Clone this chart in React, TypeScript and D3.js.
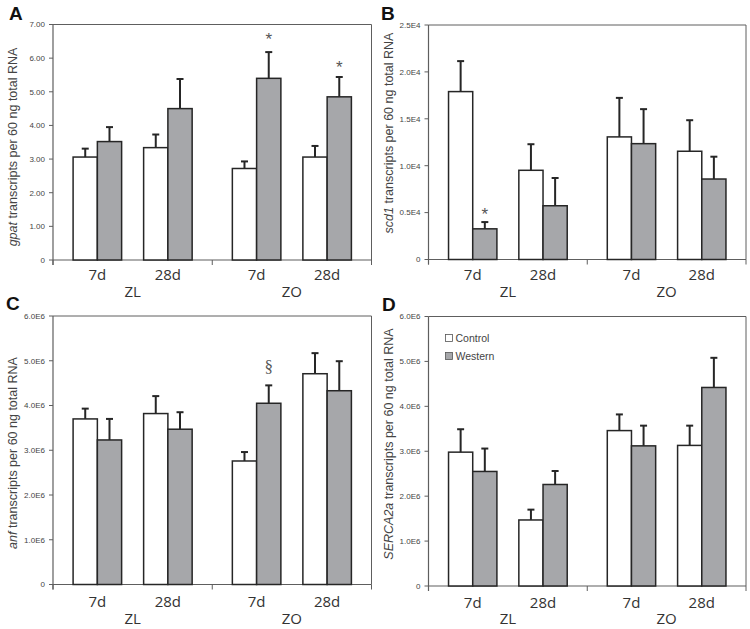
import React from "react";
import * as d3 from "d3";

// ---- categories ----
const groups = ["ZL", "ZO"];
const times = ["7d", "28d"];
const series = ["Control", "Western"];

// ---- values (order: ZL-7d, ZL-28d, ZO-7d, ZO-28d) ----
const gpatControl = [3.06, 3.34, 2.72, 3.06];
const gpatControlErr = [0.25, 0.39, 0.21, 0.33];
const gpatWestern = [3.52, 4.5, 5.4, 4.85];
const gpatWesternErr = [0.43, 0.88, 0.78, 0.59];

const scd1Control = [17900, 9510, 13070, 11540];
const scd1ControlErr = [3250, 2780, 4160, 3310];
const scd1Western = [3270, 5730, 12350, 8580];
const scd1WesternErr = [720, 2960, 3680, 2380];

const anfControl = [3.7e6, 3.82e6, 2.76e6, 4.71e6];
const anfControlErr = [0.23e6, 0.39e6, 0.2e6, 0.46e6];
const anfWestern = [3.23e6, 3.47e6, 4.05e6, 4.33e6];
const anfWesternErr = [0.47e6, 0.38e6, 0.4e6, 0.66e6];

const sercaControl = [2.98e6, 1.47e6, 3.46e6, 3.13e6];
const sercaControlErr = [0.51e6, 0.23e6, 0.36e6, 0.44e6];
const sercaWestern = [2.55e6, 2.26e6, 3.12e6, 4.42e6];
const sercaWesternErr = [0.51e6, 0.3e6, 0.45e6, 0.66e6];

// ---- ticks ----
const gpatTicks = [0, 1, 2, 3, 4, 5, 6, 7];
const gpatTickLabels = ["0", "1.00", "2.00", "3.00", "4.00", "5.00", "6.00", "7.00"];
const scd1Ticks = [0, 5000, 10000, 15000, 20000, 25000];
const scd1TickLabels = ["0", "0.5E4", "1.0E4", "1.5E4", "2.0E4", "2.5E4"];
const e6Ticks = [0, 1e6, 2e6, 3e6, 4e6, 5e6, 6e6];
const e6TickLabels = ["0", "1.0E6", "2.0E6", "3.0E6", "4.0E6", "5.0E6", "6.0E6"];

// ---- annotations: [index, series, symbol] ----
const gpatMarks = [
  { i: 2, s: "Western", t: "*" },
  { i: 3, s: "Western", t: "*" },
];
const scd1Marks = [{ i: 0, s: "Western", t: "*" }];
const anfMarks = [{ i: 2, s: "Western", t: "§" }];
const sercaMarks: { i: number; s: string; t: string }[] = [];

const FILL: Record<string, string> = { Control: "#ffffff", Western: "#a6a7aa" };
const AXIS = "#5e5e5e";
const INK = "#262626";
const TEXT = "#444";

type PanelProps = {
  letter: string;
  gene: string;
  control: number[];
  controlErr: number[];
  western: number[];
  westernErr: number[];
  ticks: number[];
  tickLabels: string[];
  marks: { i: number; s: string; t: string }[];
  layout: {
    x0: number; x1: number; yTop: number; yZero: number;
    lx: number; ly: number; tx: number; tcy: number;
    catDy: number; grpDy: number; markOff: number[];
  };
  legend?: boolean;
};

function Panel(p: PanelProps) {
  const L = p.layout;
  const dMax = p.ticks[p.ticks.length - 1];
  const y = d3.scaleLinear().domain([0, dMax]).range([L.yZero, L.yTop]);
  const gx = d3.scaleBand<string>().domain(groups).range([L.x0, L.x1]).padding(0);
  const tx = d3
    .scaleBand<string>()
    .domain(times)
    .range([0, gx.bandwidth()])
    .paddingInner(0.312)
    .paddingOuter(0.285);
  const sx = d3.scaleBand<string>().domain(series).range([0, tx.bandwidth()]).padding(0);

  const rows: { g: string; t: string; s: string; v: number; e: number; i: number }[] = [];
  groups.forEach((g, gi) =>
    times.forEach((t, ti) => {
      const i = gi * times.length + ti;
      rows.push({ g, t, s: "Control", v: p.control[i], e: p.controlErr[i], i });
      rows.push({ g, t, s: "Western", v: p.western[i], e: p.westernErr[i], i });
    })
  );
  const barX = (r: { g: string; t: string; s: string }) =>
    (gx(r.g) as number) + (tx(r.t) as number) + (sx(r.s) as number);
  const bw = sx.bandwidth();

  const midTicks = [L.x0, ...groups.slice(1).map((g) => gx(g) as number), L.x1];

  return (
    <g>
      <text x={L.lx} y={L.ly} fontFamily="Liberation Sans, Arial, sans-serif" fontWeight="bold" fontSize={19} fill="#111">
        {p.letter}
      </text>
      {/* frame */}
      <line x1={L.x0} x2={L.x1} y1={L.yTop} y2={L.yTop} stroke={AXIS} strokeWidth={1} />
      <line x1={L.x1} x2={L.x1} y1={L.yTop} y2={L.yZero} stroke={AXIS} strokeWidth={1} />
      <line x1={L.x0} x2={L.x0} y1={L.yTop} y2={L.yZero + 5} stroke={AXIS} strokeWidth={1.2} />
      <line x1={L.x0} x2={L.x1} y1={L.yZero} y2={L.yZero} stroke={AXIS} strokeWidth={1.2} />
      {midTicks.map((x, k) => (
        <line key={"mt" + k} x1={x} x2={x} y1={L.yZero} y2={L.yZero + 5} stroke={AXIS} strokeWidth={1} />
      ))}
      {p.ticks.map((t, k) => (
        <g key={"yt" + k}>
          <line x1={L.x0 - 4} x2={L.x0} y1={y(t)} y2={y(t)} stroke={AXIS} strokeWidth={1} />
          <text
            x={L.x0 - 8}
            y={y(t)}
            dy="0.35em"
            textAnchor="end"
            fontFamily="Liberation Sans, Arial, sans-serif"
            fontSize={8}
            fill={TEXT}
          >
            {p.tickLabels[k]}
          </text>
        </g>
      ))}
      {/* y title */}
      <text
        transform={`translate(${L.tx},${L.tcy}) rotate(-90)`}
        textAnchor="middle"
        dy="0.35em"
        fontFamily="Liberation Sans, Arial, sans-serif"
        fontSize={12.5}
        fill={TEXT}
      >
        <tspan fontStyle="italic">{p.gene}</tspan>
        <tspan> transcripts per 60 ng total RNA</tspan>
      </text>
      {/* bars */}
      {rows.map((r, k) => (
        <rect
          key={"b" + k}
          x={barX(r)}
          y={y(r.v)}
          width={bw}
          height={L.yZero - y(r.v)}
          fill={FILL[r.s]}
          stroke={INK}
          strokeWidth={1.5}
        />
      ))}
      {/* error bars */}
      {rows.map((r, k) => {
        const cx = barX(r) + bw / 2;
        return (
          <g key={"e" + k} stroke={INK} strokeWidth={2}>
            <line x1={cx} x2={cx} y1={y(r.v)} y2={y(r.v + r.e)} />
            <line x1={cx - 3.5} x2={cx + 3.5} y1={y(r.v + r.e)} y2={y(r.v + r.e)} />
          </g>
        );
      })}
      {/* significance marks */}
      {p.marks.map((m, k) => {
        const r = rows.find((q) => q.i === m.i && q.s === m.s)!;
        const cx = barX(r) + bw / 2;
        const top = y(r.v + r.e);
        const serif = m.t === "§";
        return (
          <text
            key={"m" + k}
            x={cx}
            y={top - L.markOff[k]}
            dy={serif ? "0.35em" : "0.7em"}
            textAnchor="middle"
            fontFamily={serif ? "Liberation Serif, serif" : "Liberation Sans, Arial, sans-serif"}
            fontSize={serif ? 17 : 17}
            fill="#555"
          >
            {m.t}
          </text>
        );
      })}
      {/* category labels */}
      {groups.map((g) =>
        times.map((t) => (
          <text
            key={g + t}
            x={(gx(g) as number) + (tx(t) as number) + tx.bandwidth() / 2}
            y={L.yZero + L.catDy}
            textAnchor="middle"
            fontFamily="Open Sans, sans-serif"
            fontSize={15}
            fill="#333"
          >
            {t}
          </text>
        ))
      )}
      {groups.map((g) => (
        <text
          key={"g" + g}
          x={(gx(g) as number) + gx.bandwidth() / 2}
          y={L.yZero + L.grpDy}
          textAnchor="middle"
          fontFamily="Open Sans, sans-serif"
          fontSize={15}
          fill="#333"
        >
          {g}
        </text>
      ))}
      {p.legend &&
        series.map((s, k) => (
          <g key={"lg" + s} transform={`translate(${L.x0 + 17},${L.yTop + 18 + k * 18})`}>
            <rect x={0} y={0} width={7} height={7} fill={FILL[s]} stroke="#555" strokeWidth={0.8} />
            <text x={10} y={7} fontFamily="Liberation Sans, Arial, sans-serif" fontSize={10.5} fill={TEXT}>
              {s}
            </text>
          </g>
        ))}
    </g>
  );
}

export default function App() {
  return (
    <svg
      width={750}
      height={629}
      style={{ position: "absolute", left: 0, top: 0, background: "#fff" }}
    >
      <rect width={750} height={629} fill="#fff" />
      <Panel
        letter="A"
        gene="gpat"
        control={gpatControl}
        controlErr={gpatControlErr}
        western={gpatWestern}
        westernErr={gpatWesternErr}
        ticks={gpatTicks}
        tickLabels={gpatTickLabels}
        marks={gpatMarks}
        layout={{ x0: 53, x1: 371.5, yTop: 24.5, yZero: 260, lx: 9, ly: 20, tx: 13, tcy: 147, catDy: 20, grpDy: 37, markOff: [18.5, 15.5] }}
      />
      <Panel
        letter="B"
        gene="scd1"
        control={scd1Control}
        controlErr={scd1ControlErr}
        western={scd1Western}
        westernErr={scd1WesternErr}
        ticks={scd1Ticks}
        tickLabels={scd1TickLabels}
        marks={scd1Marks}
        layout={{ x0: 428.5, x1: 746, yTop: 25, yZero: 259.5, lx: 381, ly: 20, tx: 389, tcy: 133, catDy: 20, grpDy: 37, markOff: [14] }}
      />
      <Panel
        letter="C"
        gene="anf"
        control={anfControl}
        controlErr={anfControlErr}
        western={anfWestern}
        westernErr={anfWesternErr}
        ticks={e6Ticks}
        tickLabels={e6TickLabels}
        marks={anfMarks}
        layout={{ x0: 53, x1: 371.5, yTop: 316, yZero: 584.5, lx: 6, ly: 310, tx: 13, tcy: 453, catDy: 22.5, grpDy: 39, markOff: [19] }}
      />
      <Panel
        letter="D"
        gene="SERCA2a"
        control={sercaControl}
        controlErr={sercaControlErr}
        western={sercaWestern}
        westernErr={sercaWesternErr}
        ticks={e6Ticks}
        tickLabels={e6TickLabels}
        marks={sercaMarks}
        layout={{ x0: 428.5, x1: 746, yTop: 316.5, yZero: 586, lx: 382, ly: 311, tx: 389, tcy: 444, catDy: 22, grpDy: 38, markOff: [] }}
        legend
      />
    </svg>
  );
}
